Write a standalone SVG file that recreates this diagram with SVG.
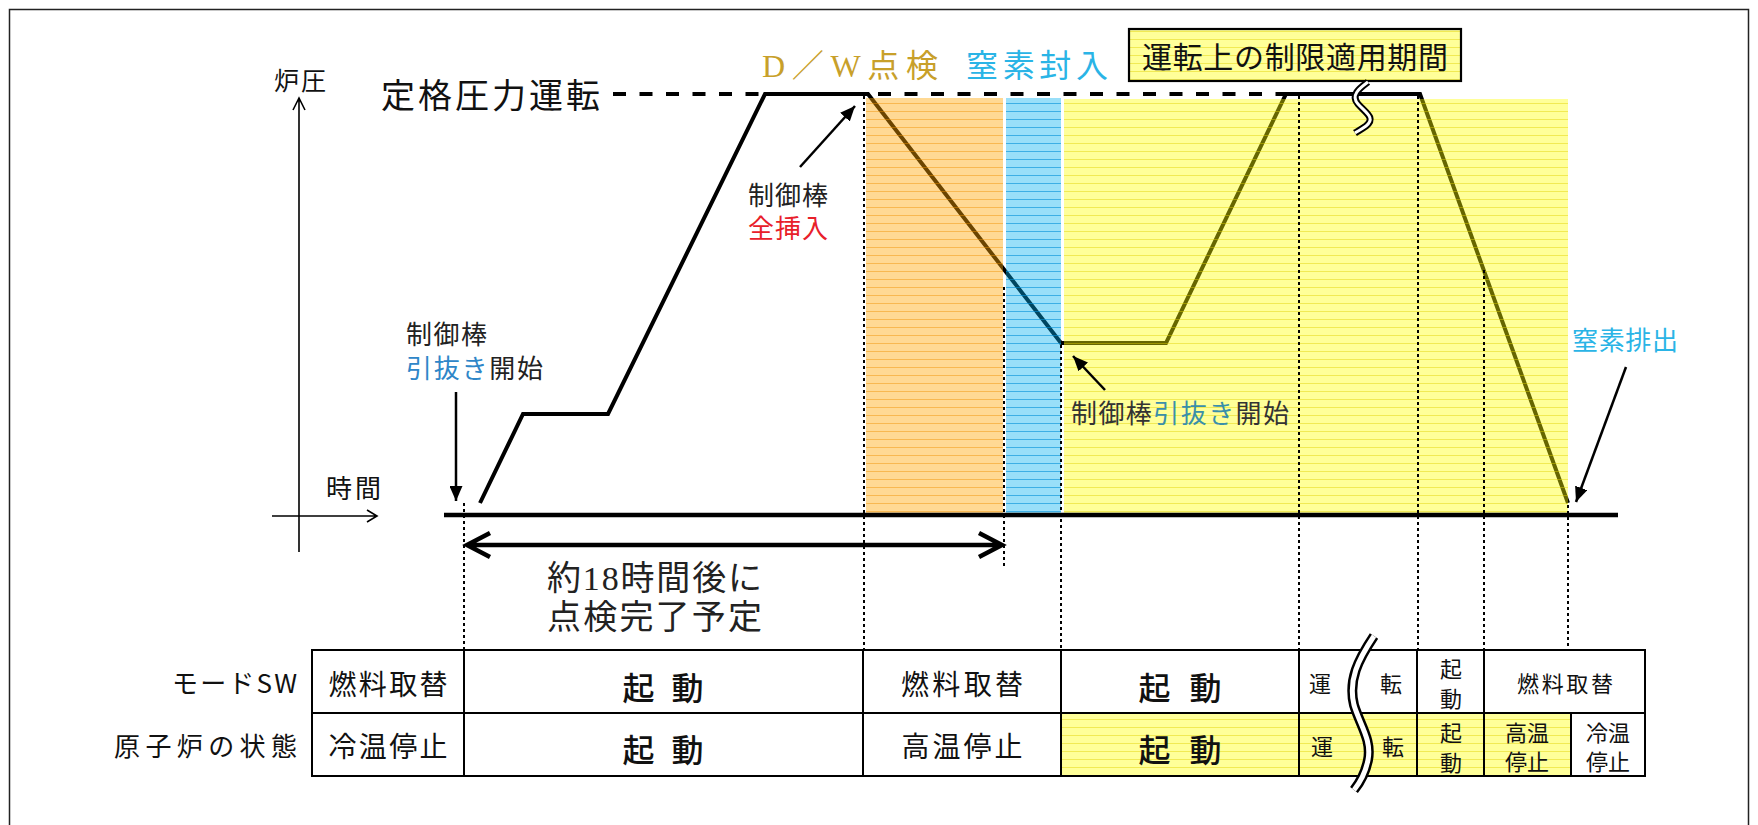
<svg xmlns="http://www.w3.org/2000/svg" width="1758" height="825" viewBox="0 0 1758 825">
<defs>
<style>
.g{font-family:"Noto Sans CJK JP","Noto Sans",sans-serif;fill:#111}
.m{font-family:"Liberation Serif","Noto Sans CJK JP",serif;fill:#222}
.dot{stroke:#000;stroke-width:2;stroke-dasharray:3 3;fill:none}
.tb{stroke:#000;stroke-width:2;fill:none}
.ar{stroke:#000;stroke-width:2.5;fill:none}
</style>
<pattern id="pY" width="8" height="8" patternUnits="userSpaceOnUse"><rect width="8" height="8" fill="#FFFF00" fill-opacity="0.4"/><rect y="7" width="8" height="1" fill="#E0D000" fill-opacity="0.45"/></pattern>
<pattern id="pO" width="8" height="8" patternUnits="userSpaceOnUse"><rect width="8" height="8" fill="#FFA500" fill-opacity="0.42"/><rect y="7" width="8" height="1" fill="#F09000" fill-opacity="0.45"/></pattern>
<pattern id="pB" width="8" height="8" patternUnits="userSpaceOnUse"><rect width="8" height="8" fill="#00B0F0" fill-opacity="0.4"/><rect y="7" width="8" height="1" fill="#0090D8" fill-opacity="0.6"/></pattern>
<marker id="ah" markerWidth="15" markerHeight="13" refX="15" refY="6.5" orient="auto" markerUnits="userSpaceOnUse"><path d="M0,0 L15,6.5 L0,13 z" fill="#000"/></marker>
</defs>
<rect width="1758" height="825" fill="#fff"/>
<path d="M9.5,830 V9.5 H1748.5 V830" fill="none" stroke="#222" stroke-width="1.5"/>

<g id="axes">
<path d="M299,552 V99 M293,110 L299,98 L305,110" fill="none" stroke="#000" stroke-width="1.6"/>
<path d="M272,516 H377 M367,510 L377,516 L367,522" fill="none" stroke="#000" stroke-width="1.6"/>
<text class="g" x="274" y="90" font-size="25" textLength="52">炉圧</text>
<text class="g" x="326" y="498" font-size="26" textLength="55">時間</text>
</g>

<g id="rated">
<text class="g" x="381" y="108" font-size="34" textLength="219">定格圧力運転</text>
<line x1="613" y1="94" x2="1286" y2="94" stroke="#000" stroke-width="4" stroke-dasharray="13 13.5"/>
</g>

<g id="curve">
<polyline points="480,503 523,414 608,414 765,94 868,94 1061,343 1166,343 1286,94 1420,94 1568,503" fill="none" stroke="#000" stroke-width="4" stroke-linejoin="miter"/>
</g>

<g id="regions">
<rect x="866" y="98" width="137" height="415" fill="url(#pO)"/>
<rect x="1006" y="98" width="55" height="415" fill="url(#pB)"/>
<rect x="1064" y="99" width="504" height="414" fill="url(#pY)"/>
</g>

<g id="dotted">
<line class="dot" x1="464" y1="503" x2="464" y2="650"/>
<line class="dot" x1="864" y1="96" x2="864" y2="650"/>
<line class="dot" x1="1004" y1="287" x2="1004" y2="567"/>
<line class="dot" x1="1061" y1="345" x2="1061" y2="650"/>
<line class="dot" x1="1299" y1="96" x2="1299" y2="650"/>
<line class="dot" x1="1418" y1="96" x2="1418" y2="650"/>
<line class="dot" x1="1484" y1="270" x2="1484" y2="650"/>
<line class="dot" x1="1568" y1="505" x2="1568" y2="650"/>
</g>

<g id="baseline">
<line x1="444" y1="515" x2="1618" y2="515" stroke="#000" stroke-width="4.5"/>
</g>

<g id="labels">
<text class="m" x="762" y="77" font-size="32" textLength="176" style="fill:#C8A02A">D／W点検</text>
<text class="m" x="966" y="77" font-size="32" textLength="142" style="fill:#2AB4E6">窒素封入</text>
<text class="m" x="406" y="344" font-size="26" textLength="81">制御棒</text>
<text class="m" x="406" y="378" font-size="26" textLength="137"><tspan style="fill:#2E86C8">引抜き</tspan>開始</text>
<text class="m" x="748" y="205" font-size="26" textLength="80">制御棒</text>
<text class="m" x="748" y="238" font-size="26" textLength="80" style="fill:#E8202A">全挿入</text>
<text class="m" x="1071" y="423" font-size="26" textLength="218" style="fill:#333">制御棒<tspan style="fill:#3A8FAA">引抜き</tspan>開始</text>
<text class="m" x="1572" y="350" font-size="26" textLength="106" style="fill:#2AB4E6">窒素排出</text>
<text class="m" x="547" y="590" font-size="34" textLength="215">約18時間後に</text>
<text class="m" x="547" y="629" font-size="34" textLength="215">点検完了予定</text>
</g>

<g id="callout">
<rect x="1129" y="29" width="332" height="52" fill="#fff"/>
<rect x="1129" y="29" width="332" height="52" fill="url(#pY)" stroke="#000" stroke-width="2.2"/>
<path d="M1368,82 C1360,88 1350,95 1358,104 C1366,113 1376,118 1366,126 C1362,129 1358,131 1355,133" fill="none" stroke="#000" stroke-width="7"/>
<path d="M1368,82 C1360,88 1350,95 1358,104 C1366,113 1376,118 1366,126 C1362,129 1358,131 1355,133" fill="none" stroke="#fff" stroke-width="3"/>
<text class="g" x="1142" y="68" font-size="30" textLength="306">運転上の制限適用期間</text>
</g>

<g id="connectors">
<line class="ar" x1="456" y1="392" x2="456" y2="501" marker-end="url(#ah)"/>
<line class="ar" x1="800" y1="167" x2="855" y2="106" marker-end="url(#ah)"/>
<line class="ar" x1="1105" y1="390" x2="1073" y2="356" marker-end="url(#ah)"/>
<line class="ar" x1="1626" y1="367" x2="1576" y2="502" marker-end="url(#ah)"/>
<path d="M468,545 H1001 M490,533 L467,545 L490,557 M979,533 L1002,545 L979,557" fill="none" stroke="#000" stroke-width="4.5" stroke-linejoin="miter"/>
</g>

<g id="table">
<rect x="1061" y="713" width="510" height="63" fill="url(#pY)"/>
<rect class="tb" x="312" y="650" width="1333" height="126"/>
<line class="tb" x1="312" y1="713" x2="1645" y2="713" stroke-width="3"/>
<path class="tb" d="M464,650 V776 M863,650 V776 M1061,650 V776 M1299,650 V776 M1417,650 V776 M1484,650 V776 M1571,713 V776"/>
<text class="g" x="297" y="693" font-size="26" text-anchor="end" textLength="125">モードSW</text>
<text class="g" x="297" y="756" font-size="26" text-anchor="end" textLength="183">原子炉の状態</text>
<g font-size="28" text-anchor="middle">
<text class="g" x="388" y="695" textLength="119">燃料取替</text>
<text class="g" x="962" y="695" textLength="122">燃料取替</text>
<text class="g" x="388" y="757" textLength="119">冷温停止</text>
<text class="g" x="962" y="757" textLength="121">高温停止</text>
</g>
<g font-size="32" text-anchor="middle" font-weight="500">
<text class="g" x="663" y="700" textLength="81">起 動</text>
<text class="g" x="1180" y="700" textLength="83">起 動</text>
<text class="g" x="663" y="762" textLength="81">起 動</text>
<text class="g" x="1180" y="762" textLength="83">起 動</text>
</g>
<g font-size="22" text-anchor="middle">
<text class="g" x="1320" y="692">運</text>
<text class="g" x="1391" y="692">転</text>
<text class="g" x="1322" y="755">運</text>
<text class="g" x="1393" y="755">転</text>
<text class="g" x="1451" y="677">起</text>
<text class="g" x="1451" y="707">動</text>
<text class="g" x="1451" y="741">起</text>
<text class="g" x="1451" y="771">動</text>
<text class="g" x="1565" y="692" textLength="96">燃料取替</text>
<text class="g" x="1527" y="741">高温</text>
<text class="g" x="1527" y="770">停止</text>
<text class="g" x="1608" y="741">冷温</text>
<text class="g" x="1608" y="770">停止</text>
</g>
<path d="M1374,636 C1358,660 1348,680 1354,705 C1360,725 1372,740 1368,760 C1365,775 1358,785 1354,790" fill="none" stroke="#000" stroke-width="10"/>
<path d="M1374,636 C1358,660 1348,680 1354,705 C1360,725 1372,740 1368,760 C1365,775 1358,785 1354,790" fill="none" stroke="#fff" stroke-width="5"/>
</g>
</svg>
